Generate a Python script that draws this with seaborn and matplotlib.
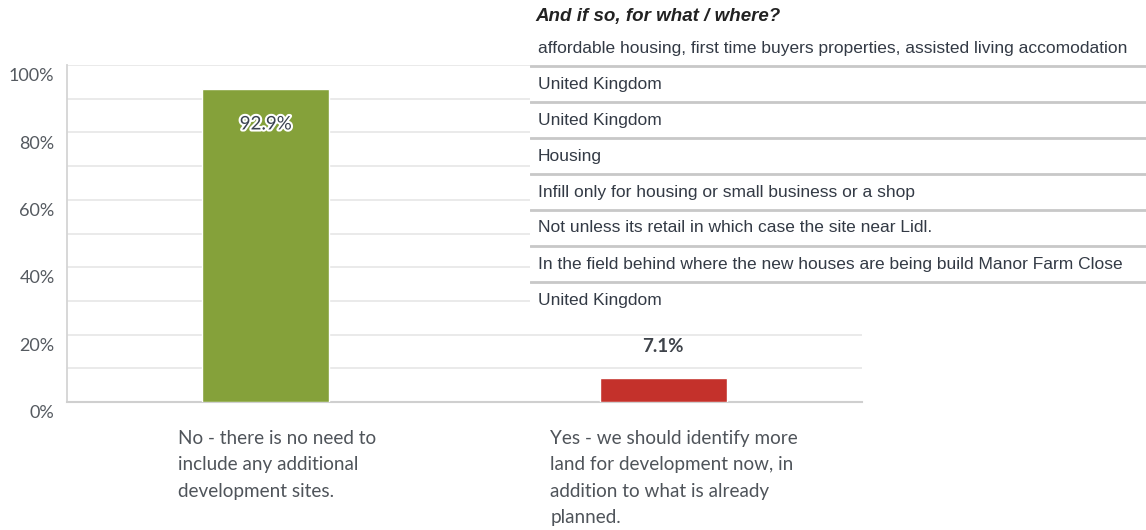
import matplotlib
matplotlib.use("Agg")
import matplotlib.pyplot as plt
from matplotlib.lines import Line2D
import matplotlib.patheffects as pe
import seaborn as sns
import pandas as pd

# Survey answers and their share of respondents
categories = [
    "No - there is no need to\ninclude any additional\ndevelopment sites.",
    "Yes - we should identify more\nland for development now, in\naddition to what is already\nplanned.",
]
shares = [92.9, 7.1]
bar_colors = ["#85a13a", "#c4312b"]
y_ticks = [0, 20, 40, 60, 80, 100]
tick_labels = ["0%", "20%", "40%", "60%", "80%", "100%"]

# Free-text follow-up answers
follow_up_title = "And if so, for what / where?"
follow_up_answers = [
    "affordable housing, first time buyers properties, assisted living accomodation",
    "United Kingdom",
    "United Kingdom",
    "Housing",
    "Infill only for housing or small business or a shop",
    "Not unless its retail in which case the site near Lidl.",
    "In the field behind where the new houses are being build Manor Farm Close",
    "United Kingdom",
]

sns.set_theme(style="white")
plt.rcParams["font.family"] = ["Lato", "DejaVu Sans"]

W, H = 1146, 530
fig = plt.figure(figsize=(W / 100, H / 100), dpi=100)
fig.patch.set_facecolor("white")

ax = fig.add_axes([67 / W, 128 / H, 795 / W, 337 / H])
df = pd.DataFrame({"answer": categories, "share": shares})
sns.barplot(data=df, x="answer", y="share", hue="answer", palette=bar_colors,
            width=0.32, saturation=1, legend=False, ax=ax, zorder=3)

ax.set_ylim(0, 100)
ax.set_xlim(-0.5, 1.5)
ax.set_yticks(range(0, 101, 10), minor=False)
ax.yaxis.grid(True, color="#e8e8e8", linewidth=1.3, zorder=0)
ax.set_yticklabels([""] * 11)
ax.tick_params(axis="y", length=0)
ax.tick_params(axis="x", length=0)
ax.set_xticklabels([])
ax.set_xlabel("")
ax.set_ylabel("")
for s in ["top", "right"]:
    ax.spines[s].set_visible(False)
ax.spines["left"].set_color("#d4d4d4")
ax.spines["left"].set_linewidth(1.3)
ax.spines["bottom"].set_color("#cfcfcf")
ax.spines["bottom"].set_linewidth(1.5)

# y tick labels sit just below their gridline
for v, lab in zip(y_ticks, tick_labels):
    ax.annotate(lab, xy=(0, v), xycoords=("axes fraction", "data"),
                xytext=(-9, -8), textcoords="offset points",
                ha="right", va="center", fontsize=13, color="#555a60")

# category labels, a left-aligned block centred under each bar
for i, lab in enumerate(categories):
    ax.annotate(lab, xy=(i, 0), xycoords="data", xytext=(8, -20),
                textcoords="offset points", ha="center", va="top",
                multialignment="left", fontsize=13.6, color="#4f545a",
                linespacing=1.68)

# value labels
ax.text(0, shares[0] - 10.4, f"{shares[0]}%", ha="center", va="center",
        fontsize=13.5, color="#3b4350", zorder=5,
        path_effects=[pe.withStroke(linewidth=3, foreground="white")])
ax.text(1, shares[1] + 9.5, f"{shares[1]}%", ha="center", va="center",
        fontsize=13.5, fontweight="bold", color="#3e434a", zorder=5)

# follow-up answers panel overlaid on the right
tab = fig.add_axes([530 / W, 0, (W - 530) / W, 1])
tab.set_xlim(0, W - 530)
tab.set_ylim(H, 0)
tab.axis("off")
tab.add_patch(plt.Rectangle((0, 30), W - 530, 288, facecolor="white",
                            edgecolor="none"))
tab.text(5, 16, follow_up_title, fontsize=13.5, fontweight="bold",
         fontstyle="italic", color="#222222", va="center",
         family=["Liberation Sans", "DejaVu Sans"])
row_h = 36
for k, txt in enumerate(follow_up_answers):
    yc = 48 + k * row_h
    tab.text(8, yc, txt, fontsize=12.5, color="#333a45", va="center",
             family=["Liberation Sans", "DejaVu Sans"])
    if k < len(follow_up_answers) - 1:
        tab.add_line(Line2D([0, W - 530], [yc + 18, yc + 18],
                            color="#c8c8c8", linewidth=2))

fig.savefig("out.png", dpi=100, facecolor="white")
